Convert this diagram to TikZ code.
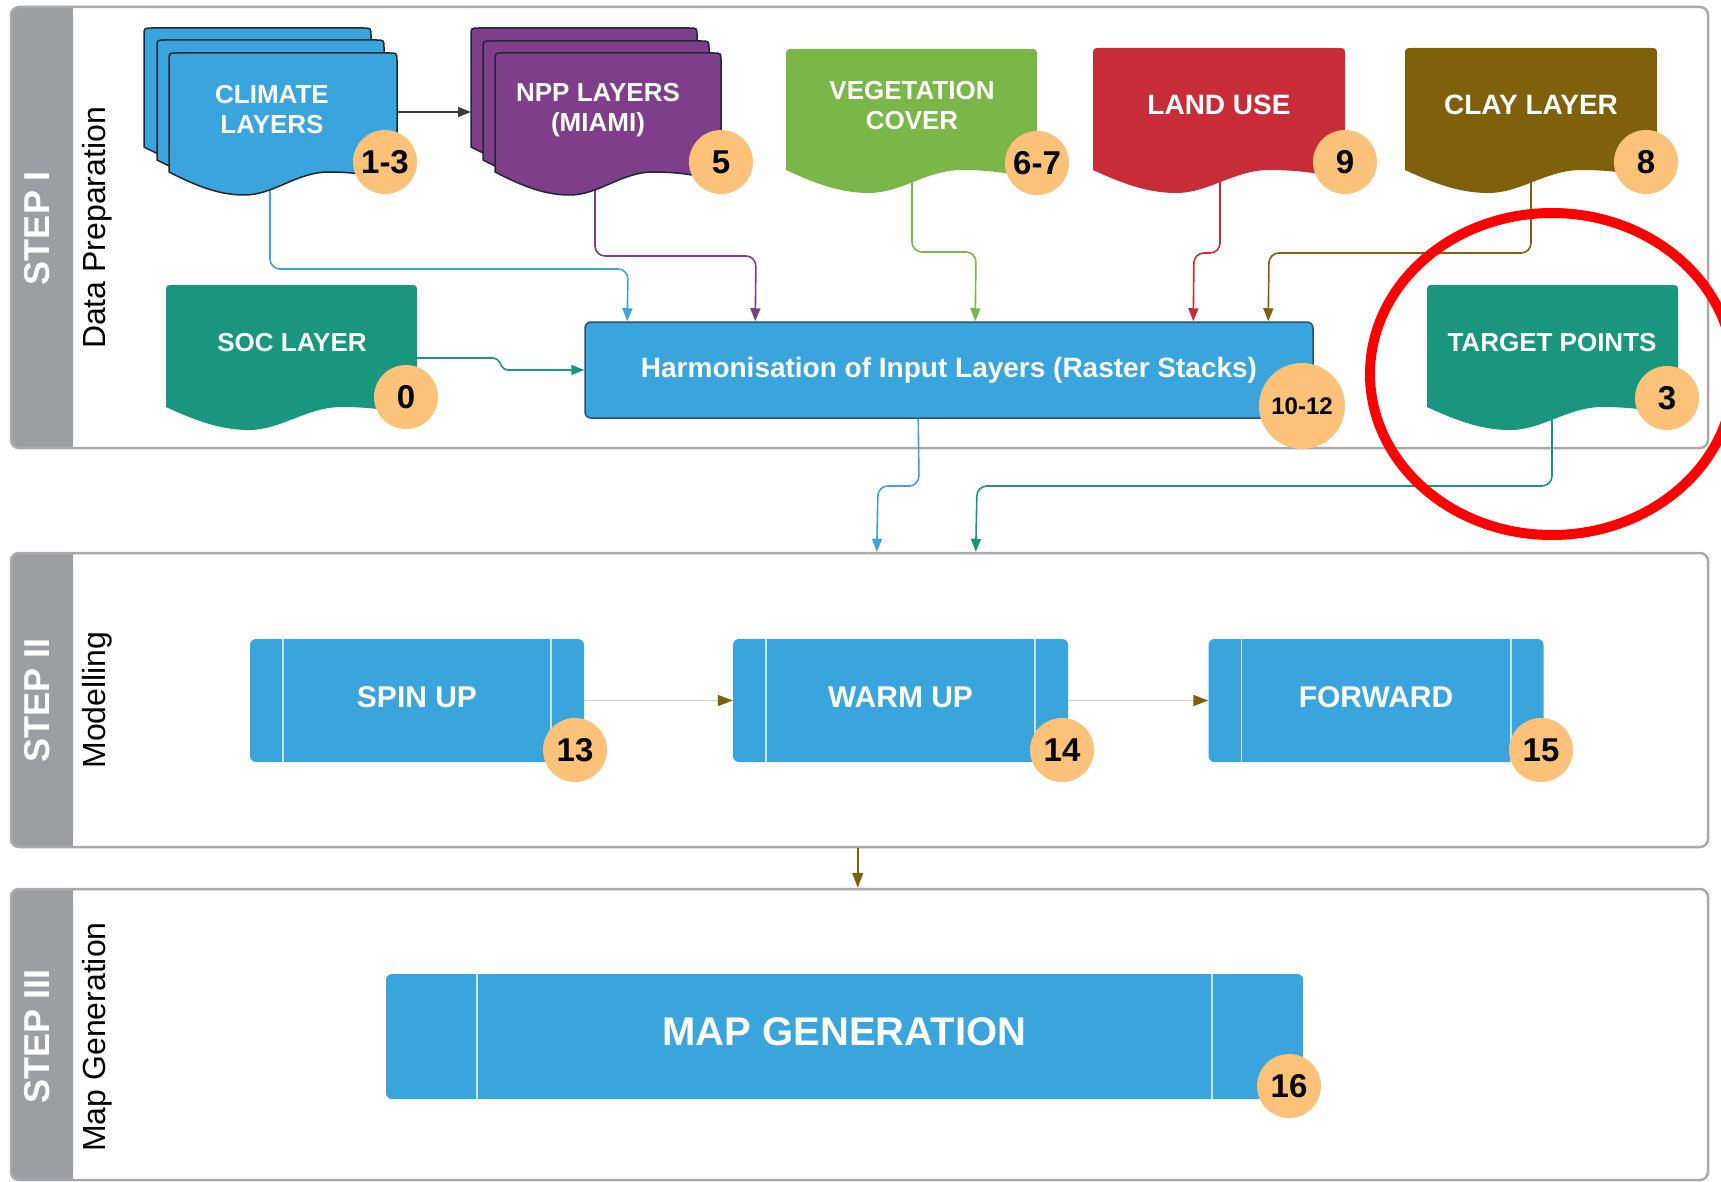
\documentclass[tikz,border=0pt]{standalone}
\usepackage{fontspec}
\setmainfont{Liberation Sans}
\usetikzlibrary{arrows.meta,calc}
\definecolor{cblue}{RGB}{58,164,220}
\definecolor{cpurple}{RGB}{126,62,138}
\definecolor{cgreen}{RGB}{122,182,72}
\definecolor{cred}{RGB}{201,44,57}
\definecolor{cbrown}{RGB}{127,96,11}
\definecolor{cteal}{RGB}{25,150,125}
\definecolor{cbadge}{RGB}{252,194,122}
\definecolor{pgray}{RGB}{170,170,170}
\definecolor{bandgray}{RGB}{157,158,161}
\definecolor{outl}{RGB}{30,40,50}
\definecolor{harmline}{RGB}{40,80,115}
\definecolor{lgray}{RGB}{205,205,205}
\definecolor{innerline}{RGB}{200,228,245}
\definecolor{darrow}{RGB}{60,60,60}
\newcommand\docshape[5]{%
  \pgfmathsetmacro\dsX{#1}\pgfmathsetmacro\dsT{#2}\pgfmathsetmacro\dsW{#3}\pgfmathsetmacro\dsB{#2+#5}%
  \path[#4] (\dsX,\dsB) -- (\dsX,\dsT+8) .. controls (\dsX,\dsT) .. (\dsX+8,\dsT)
   -- (\dsX+\dsW-8,\dsT) .. controls (\dsX+\dsW,\dsT) .. (\dsX+\dsW,\dsT+8)
   -- (\dsX+\dsW,\dsB+10) .. controls (\dsX+0.92*\dsW,\dsB+4) and (\dsX+0.82*\dsW,\dsB) .. (\dsX+0.7*\dsW,\dsB)
   .. controls (\dsX+0.56*\dsW,\dsB) and (\dsX+0.46*\dsW,\dsB+23) .. (\dsX+0.33*\dsW,\dsB+23)
   .. controls (\dsX+0.22*\dsW,\dsB+23) and (\dsX+0.12*\dsW,\dsB+14) .. (\dsX,\dsB) -- cycle;}
\tikzset{
  panel/.style={draw=pgray, line width=2.5pt, rounded corners=8pt, inner sep=0pt},
  steptext/.style={text=white, font=\fontsize{36}{36}\selectfont\bfseries, inner sep=0pt},
  phasetext/.style={text=black, font=\fontsize{32}{32}\selectfont, inner sep=0pt},
  doctext/.style={text=white, font=\fontsize{26}{30}\selectfont\bfseries, align=center, inner sep=0pt},
  bigdoctext/.style={doctext, font=\fontsize{28}{30}\selectfont\bfseries},
  badge/.style={circle, fill=cbadge, minimum size=64pt, inner sep=0pt, font=\fontsize{33}{33}\selectfont\bfseries, text=black},
  procbox/.style={fill=cblue, rounded corners=6pt, inner sep=0pt, text=white, text depth=6pt, font=\fontsize{30}{30}\selectfont\bfseries},
  innerl/.style={draw=innerline, line width=1.6pt},
  conn/.style={line width=1.6pt, rounded corners=10pt},
  tipI/.style={-{Triangle[length=13pt,width=10pt]}},
  tipII/.style={-{Triangle[length=15pt,width=11pt,color=cbrown]}},
  stackpage/.style={fill=#1, draw=outl, line width=1.5pt},
  single/.style={fill=#1}
}
\begin{document}
\begin{tikzpicture}[x=1pt,y=-1pt]
\useasboundingbox (0,0) rectangle (1721,1182);
\fill[white] (0,0) rectangle (1721,1182);

% ---------- panels ----------
\fill[bandgray, rounded corners=8pt] (11,7) rectangle (73,448);
\fill[bandgray] (40,7) rectangle (73,448);
\fill[bandgray, rounded corners=8pt] (11,553) rectangle (73,847);
\fill[bandgray] (40,553) rectangle (73,847);
\fill[bandgray, rounded corners=8pt] (11,889) rectangle (73,1180);
\fill[bandgray] (40,889) rectangle (73,1180);
\node[panel, minimum width=1697pt, minimum height=441pt] (p1) at (859.5,227.5) {};
\node[panel, minimum width=1697pt, minimum height=294pt] (p2) at (859.5,700) {};
\node[panel, minimum width=1697pt, minimum height=291pt] (p3) at (859.5,1034.5) {};

\node[steptext, rotate=90] (s1) at (37,228) {STEP I};
\node[phasetext, rotate=90] (d1) at (97,228) {Data Preparation};
\node[steptext, rotate=90] (s2) at (37,700) {STEP II};
\node[phasetext, rotate=90] (d2) at (97,700) {Modelling};
\node[steptext, rotate=90] (s3) at (37,1036) {STEP III};
\node[phasetext, rotate=90] (d3) at (97,1037) {Map Generation};

% ---------- harmonisation box ----------
\node[fill=cblue, draw=harmline, line width=1.5pt, rounded corners=6pt, minimum width=728pt, minimum height=96pt, inner sep=0pt,
      text=white, text depth=5pt, font=\fontsize{28}{28}\selectfont\bfseries] (harm) at (949,370) {Harmonisation of Input Layers (Raster Stacks)};

% ---------- connector start points ----------
\coordinate (climB) at (270,180);
\coordinate (climR) at (397,112);
\coordinate (nppL) at (471,112);
\coordinate (nppB) at (595,180);
\coordinate (vegB) at (912,180);
\coordinate (landB) at (1220,180);
\coordinate (clayB) at (1531,180);
\coordinate (socR) at (417,358);
\coordinate (tgtB) at (1552,420);

% ---------- connectors in step I ----------
\draw[conn, cblue, tipI] (climB) -- (270,269) -- (628,269) -- ($(harm.north west)+(43,0)$);
\draw[conn, cpurple, tipI] (nppB) -- (595,256) -- (756,256) -- ($(harm.north west)+(171,0)$);
\draw[conn, cgreen, tipI] (vegB) -- (912,252) -- (976,252) -- ($(harm.north west)+(391,0)$);
\draw[conn, cred, tipI] (landB) -- (1220,253) -- (1194,253) -- ($(harm.north west)+(609,0)$);
\draw[conn, cbrown, tipI] (clayB) -- (1531,253) -- (1269,253) -- ($(harm.north west)+(684,0)$);
\draw[line width=1.6pt, rounded corners=5pt, cteal, tipI] (socR) -- (498,358) -- (503,370) -- (harm.west);
\draw[line width=1.6pt, darrow, tipI] (climR) -- (nppL);
\draw[conn, cblue, tipI] ($(harm.south west)+(334,0)$) -- (919,486) -- (878,486) -- ($(p2.north west)+(867,0)$);
\draw[conn, cteal, tipI] (tgtB) -- (1552,486) -- (977,486) -- ($(p2.north west)+(966,0)$);

% ---------- document shapes ----------
\docshape{144}{28}{227}{stackpage=cblue}{119}
\docshape{157}{40}{227}{stackpage=cblue}{120}
\docshape{169}{53}{228}{stackpage=cblue}{119}
\docshape{471}{28}{226}{stackpage=cpurple}{119}
\docshape{483}{41}{226}{stackpage=cpurple}{119}
\docshape{495}{53}{226}{stackpage=cpurple}{119}
\docshape{786}{49}{251}{single=cgreen}{121}
\docshape{1093}{48}{252}{single=cred}{122}
\docshape{1405}{48}{252}{single=cbrown}{122}
\docshape{166}{285}{251}{single=cteal}{122}
\docshape{1427}{285}{251}{single=cteal}{122}

\node[doctext] (climate) at (272,110) {CLIMATE\\LAYERS};
\node[doctext] (npp) at (598,110) {NPP LAYERS\\(MIAMI)};
\node[doctext] (veg) at (912,106) {VEGETATION\\COVER};
\node[bigdoctext] (land) at (1219,105) {LAND USE};
\node[bigdoctext] (clay) at (1531,105) {CLAY LAYER};
\node[doctext] (soc) at (292,343) {SOC LAYER};
\node[doctext] (tgt) at (1552,343) {TARGET POINTS};

% ---------- step II ----------
\node[procbox, minimum width=334pt, minimum height=123pt] (spin) at (417,700.5) {SPIN UP};
\node[procbox, minimum width=335pt, minimum height=123pt] (warm) at (900.5,700.5) {WARM UP};
\node[procbox, minimum width=335pt, minimum height=123pt] (fwd) at (1376,700.5) {FORWARD};
\foreach \b in {spin,warm,fwd}{
  \draw[innerl] ($(\b.north west)+(33,0)$) -- ($(\b.south west)+(33,0)$);
  \draw[innerl] ($(\b.north east)+(-33,0)$) -- ($(\b.south east)+(-33,0)$);
}
\draw[line width=1.6pt, lgray, tipII] (spin.east) -- (warm.west);
\draw[line width=1.6pt, lgray, tipII] (warm.east) -- (fwd.west);
\draw[line width=1.6pt, cbrown, tipII] ($(p2.south west)+(848,0)$) -- ($(p3.north west)+(848,0)$);

% ---------- step III ----------
\node[procbox, minimum width=917pt, minimum height=125pt, text depth=9pt, font=\fontsize{40}{40}\selectfont\bfseries] (map) at (844.5,1036.5) {MAP GENERATION};
\draw[innerl] ($(map.north west)+(91,0)$) -- ($(map.south west)+(91,0)$);
\draw[innerl] ($(map.north east)+(-91,0)$) -- ($(map.south east)+(-91,0)$);

% ---------- badges ----------
\node[badge] (b13a) at (385,162) {1-3};
\node[badge] (b5) at (721,162) {5};
\node[badge] (b67) at (1037,163) {6-7};
\node[badge] (b9) at (1345,162) {9};
\node[badge] (b8) at (1646,162) {8};
\node[badge] (b0) at (406,397) {0};
\node[badge] (b3) at (1667,398) {3};
\node[badge, minimum size=86pt, font=\fontsize{24}{24}\selectfont\bfseries] (b1012) at (1302,406) {10-12};
\node[badge] (b13) at (575,750) {13};
\node[badge] (b14) at (1062,750) {14};
\node[badge] (b15) at (1541,750) {15};
\node[badge] (b16) at (1289,1086) {16};

% ---------- highlight ----------
\draw[red, line width=10pt] (1552,374) ellipse [x radius=182pt, y radius=161pt];
\end{tikzpicture}
\end{document}
